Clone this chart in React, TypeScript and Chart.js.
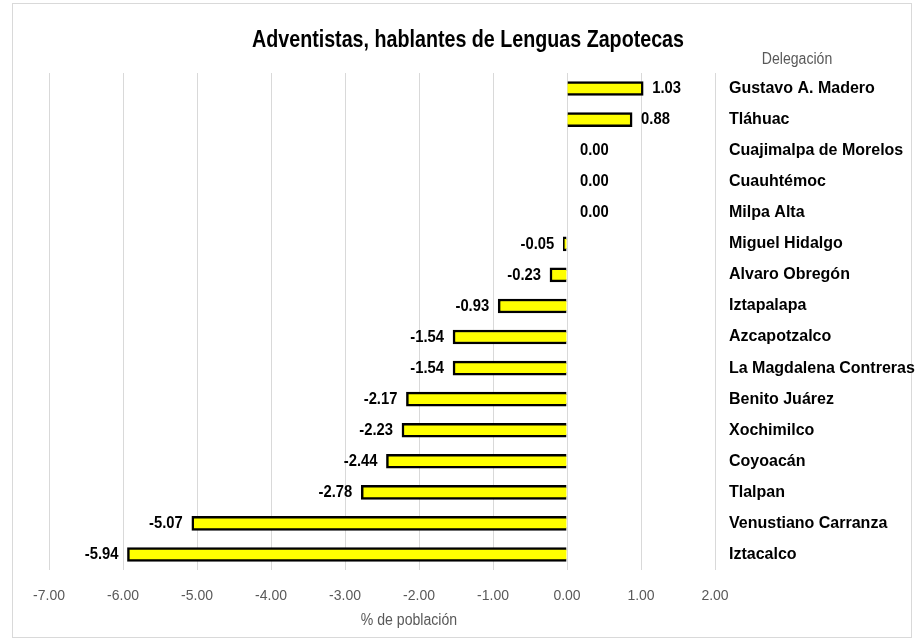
import React, { useEffect, useRef } from "react";
import { Chart, registerables } from "chart.js";

Chart.register(...registerables);

const delegaciones = [
  "Gustavo A. Madero",
  "Tláhuac",
  "Cuajimalpa de Morelos",
  "Cuauhtémoc",
  "Milpa Alta",
  "Miguel Hidalgo",
  "Alvaro Obregón",
  "Iztapalapa",
  "Azcapotzalco",
  "La Magdalena Contreras",
  "Benito Juárez",
  "Xochimilco",
  "Coyoacán",
  "Tlalpan",
  "Venustiano Carranza",
  "Iztacalco",
];

const porcentajes = [1.03, 0.88, 0.0, 0.0, 0.0, -0.05, -0.23, -0.93, -1.54, -1.54, -2.17, -2.23, -2.44, -2.78, -5.07, -5.94];

const xMin = -7;
const xMax = 2;

const titulo = "Adventistas, hablantes de Lenguas Zapotecas";
const tituloEje = "% de población";
const tituloCategorias = "Delegación";

const SANS = '"Liberation Sans", Arial, sans-serif';

function scaledText(ctx: any, text: string, x: number, y: number, align: string, sx: number) {
  ctx.save();
  ctx.translate(x, y);
  ctx.scale(sx, 1);
  ctx.textAlign = align;
  ctx.textBaseline = "middle";
  ctx.fillText(text, 0, 0);
  ctx.restore();
}

const decorPlugin = {
  id: "decor",
  beforeDraw(chart: any) {
    const ctx = chart.ctx;
    ctx.save();
    ctx.fillStyle = "#ffffff";
    ctx.fillRect(0, 0, chart.width, chart.height);
    ctx.strokeStyle = "#D9D9D9";
    ctx.lineWidth = 1;
    ctx.strokeRect(12.5, 3.5, 899, 634);
    ctx.restore();
  },
  afterDraw(chart: any) {
    const ctx = chart.ctx;
    const xs = chart.scales.x;
    ctx.save();
    ctx.fillStyle = "#000000";
    ctx.font = `bold 24px ${SANS}`;
    scaledText(ctx, titulo, 468, 40, "center", 0.82);
    ctx.fillStyle = "#595959";
    ctx.font = `16px ${SANS}`;
    scaledText(ctx, tituloCategorias, 797, 60, "center", 0.88);
    scaledText(ctx, tituloEje, 409, 621, "center", 0.88);
    const meta = chart.getDatasetMeta(0);
    ctx.fillStyle = "#000000";
    ctx.font = `bold 17px ${SANS}`;
    meta.data.forEach((bar: any, i: number) => {
      const v = porcentajes[i];
      const zero = xs.getPixelForValue(0);
      const end = xs.getPixelForValue(v);
      const txt = v.toFixed(2);
      if (v < 0) {
        scaledText(ctx, txt, end - 9, bar.y, "right", 0.87);
      } else if (v > 0) {
        scaledText(ctx, txt, end + 9, bar.y, "left", 0.87);
      } else {
        scaledText(ctx, txt, zero + 13, bar.y, "left", 0.87);
      }
    });
    ctx.restore();
  },
};

export default function App() {
  const ref = useRef<HTMLCanvasElement>(null);
  useEffect(() => {
    if (!ref.current) return;
    const chart = new Chart(ref.current, {
      type: "bar",
      data: {
        labels: delegaciones,
        datasets: [
          {
            data: porcentajes,
            backgroundColor: "#FFFF00",
            borderColor: "#000000",
            borderWidth: 2.5,
            barThickness: 14,
          },
        ],
      },
      options: {
        indexAxis: "y",
        animation: false,
        responsive: false,
        maintainAspectRatio: false,
        layout: { padding: { left: 49, top: 73, right: 0, bottom: 0 } },
        plugins: {
          legend: { display: false },
          tooltip: { enabled: false },
          title: { display: false },
        },
        scales: {
          x: {
            type: "linear",
            min: xMin,
            max: xMax,
            position: "bottom",
            afterFit: (s: any) => {
              s.height = 74;
            },
            ticks: {
              stepSize: 1,
              color: "#595959",
              font: { family: SANS, size: 14 },
              padding: 18,
              callback: (v: any) => Number(v).toFixed(2),
            },
            grid: { color: "#D9D9D9", lineWidth: 1, drawTicks: false },
            border: { display: false },
          },
          y: {
            type: "category",
            position: "right",
            afterFit: (s: any) => {
              s.width = 202;
            },
            ticks: {
              color: "#000000",
              font: { family: SANS, size: 16, weight: "bold" },
              padding: 14,
              crossAlign: "near",
            },
            grid: { display: false, drawTicks: false },
            border: { display: false },
          },
        },
      },
      plugins: [decorPlugin],
    });
    return () => chart.destroy();
  }, []);
  return (
    <div style={{ position: "absolute", left: 0, top: 0, width: 917, height: 644 }}>
      <canvas ref={ref} width={917} height={644} style={{ width: 917, height: 644 }} />
    </div>
  );
}
